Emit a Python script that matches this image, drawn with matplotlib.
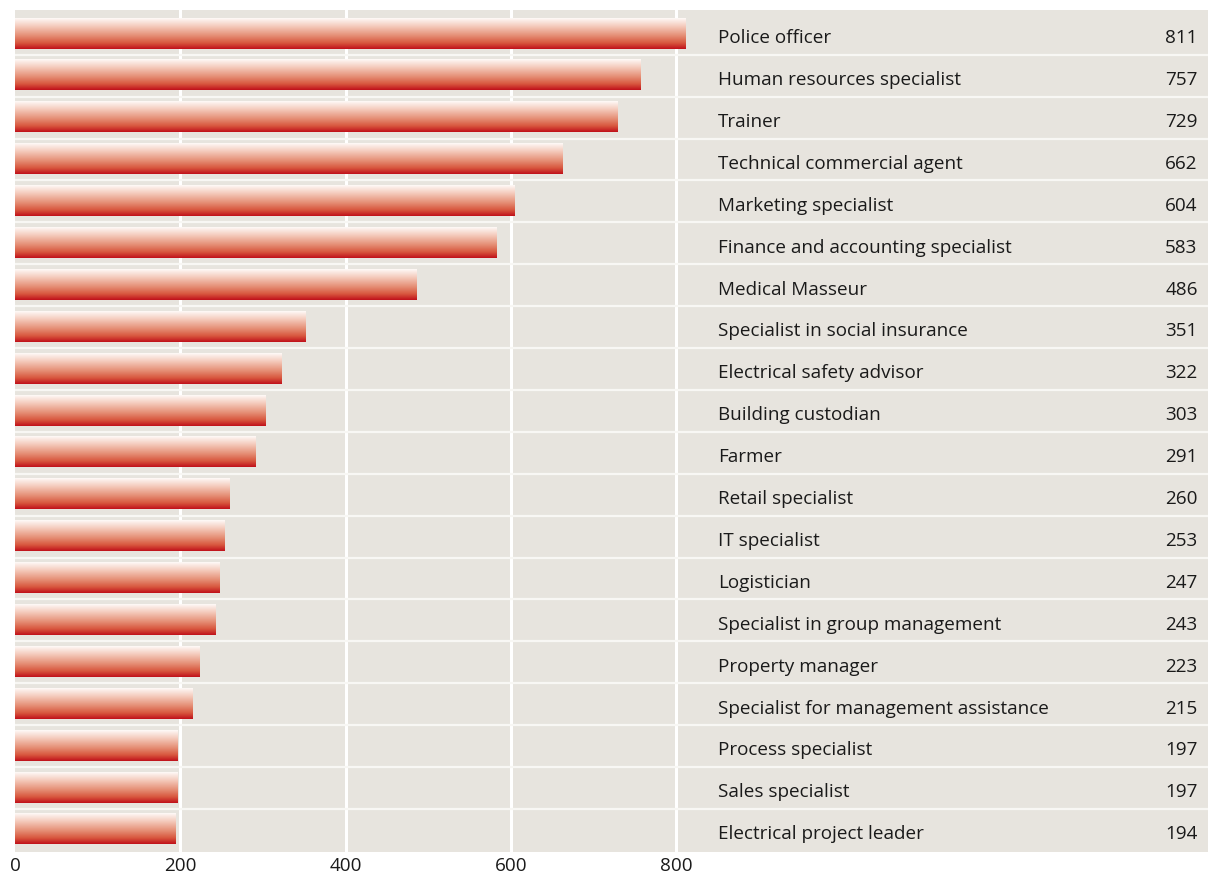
import numpy as np
import matplotlib
matplotlib.use("Agg")
import matplotlib.pyplot as plt
from matplotlib.colors import LinearSegmentedColormap

plt.rcParams['font.family'] = ['Open Sans', 'DejaVu Sans']

occupations = [
    "Police officer", "Human resources specialist", "Trainer",
    "Technical commercial agent", "Marketing specialist",
    "Finance and accounting specialist", "Medical Masseur",
    "Specialist in social insurance", "Electrical safety advisor",
    "Building custodian", "Farmer", "Retail specialist", "IT specialist",
    "Logistician", "Specialist in group management", "Property manager",
    "Specialist for management assistance", "Process specialist",
    "Sales specialist", "Electrical project leader",
]
counts = [811, 757, 729, 662, 604, 583, 486, 351, 322, 303,
          291, 260, 253, 247, 243, 223, 215, 197, 197, 194]
xticks = [0, 200, 400, 600, 800]

bg = "#e7e4de"
bar_cmap = LinearSegmentedColormap.from_list(
    "bar", [(0.0, "#fefaf8"), (0.25, "#f5cdbf"), (0.55, "#e69279"),
            (0.8, "#d8583f"), (1.0, "#c0101a")])

fig = plt.figure(figsize=(12.08, 8.79), dpi=100)
ax = fig.add_axes([15 / 1208, (879 - 853) / 879, 1 - 15 / 1208, (853 - 11) / 879])
ax.set_facecolor(bg)

n = len(counts)

# vertical grid
for t in xticks[1:]:
    ax.axvline(t, color="white", lw=2.2, zorder=1)

# row separators
for i in range(1, n):
    ax.axhline(i, color="#f8f7f4", lw=1.6, zorder=1)

# gradient bars
grad = np.linspace(0, 1, 256).reshape(-1, 1)
for i, v in enumerate(counts):
    ax.imshow(grad, cmap=bar_cmap, aspect="auto", interpolation="bilinear",
              extent=[0, v, i + 0.85, i + 0.12], zorder=2)
    ax.text(851, i + 0.70, occupations[i], ha="left", va="baseline",
            fontsize=13.6, color="#1a1a1a")
    ax.text(1431, i + 0.70, str(v), ha="right", va="baseline",
            fontsize=13.6, color="#1a1a1a")

ax.set_xlim(0, 1443.5)
ax.set_ylim(n + 0.03, -0.07)
ax.set_yticks([])
ax.set_xticks(xticks)
ax.set_xticklabels([str(t) for t in xticks], fontsize=13.6, color="#1a1a1a")
ax.tick_params(axis="x", length=0, pad=3)
for s in ax.spines.values():
    s.set_visible(False)

fig.savefig("out.png", dpi=100, facecolor="white")
